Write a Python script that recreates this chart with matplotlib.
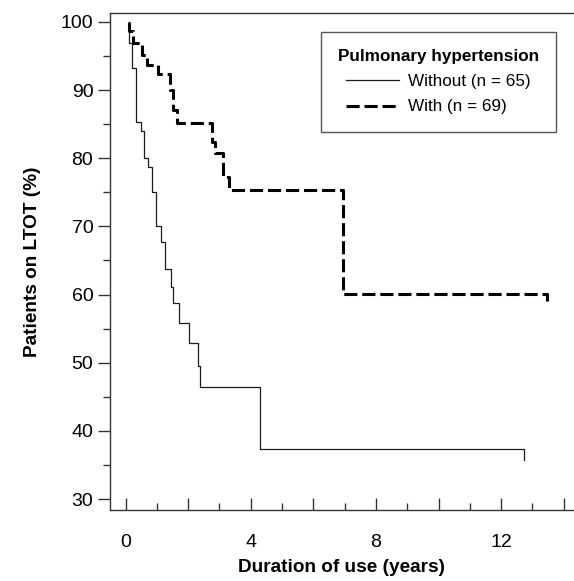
import matplotlib
matplotlib.use('Agg')
import matplotlib.pyplot as plt
from matplotlib.ticker import MultipleLocator, FixedLocator, FuncFormatter

plt.rcParams['font.family'] = ['Liberation Sans', 'DejaVu Sans']

# Kaplan-Meier style step data (time in years, % on LTOT)
without_t = [0.10, 0.12, 0.21, 0.32, 0.48, 0.60, 0.70, 0.83, 0.96, 1.13, 1.26,
             1.45, 1.53, 1.69, 2.03, 2.30, 2.38, 4.30, 12.73]
without_s = [100, 96.9, 93.2, 85.3, 84.0, 80.0, 78.7, 75.0, 70.0, 67.7, 63.7,
             61.1, 58.8, 55.9, 52.9, 49.5, 46.5, 37.4, 37.4]
without_end = 35.8

with_t = [0.10, 0.12, 0.24, 0.51, 0.67, 1.05, 1.42, 1.50, 1.64, 2.76, 2.86,
          3.10, 3.31, 6.96, 13.46]
with_s = [100, 98.6, 96.9, 95.2, 93.7, 92.4, 90.0, 87.1, 85.1, 82.4, 80.7,
          77.3, 75.3, 60.1, 60.1]
with_end = 59.0

labels = ['Without (n = 65)', 'With (n = 69)']
legend_title = 'Pulmonary hypertension'

fig = plt.figure(figsize=(5.74, 5.81), dpi=100)
ax = fig.add_axes([0.1916, 0.1222, 0.8084, 0.8554])

ax.step(without_t + [without_t[-1]], without_s + [without_end], where='post',
        color='#1a1a1a', lw=0.9, label=labels[0])
ax.step(with_t + [with_t[-1]], with_s + [with_end], where='post',
        color='black', lw=2.2, dashes=(4.3, 1.6), label=labels[1])

ax.set_xlim(-0.5, 14.33)
ax.set_ylim(28.4, 101.3)

ax.spines['right'].set_visible(False)
for s in ['left', 'bottom', 'top']:
    ax.spines[s].set_color('#333333')
    ax.spines[s].set_linewidth(1.0)

ax.xaxis.set_major_locator(FixedLocator(range(0, 15, 2)))
ax.xaxis.set_minor_locator(FixedLocator(range(1, 15, 2)))
ax.xaxis.set_major_formatter(FuncFormatter(lambda v, p: f'{int(v)}' if int(v) % 4 == 0 else ''))
ax.yaxis.set_major_locator(MultipleLocator(10))
ax.yaxis.set_minor_locator(MultipleLocator(5))

ax.tick_params(axis='x', which='major', direction='in', length=9, width=1,
               color='#333333', labelsize=14, pad=17)
ax.tick_params(axis='x', which='minor', direction='in', length=5, width=1, color='#333333')
ax.tick_params(axis='y', which='major', direction='out', length=9, width=1,
               color='#333333', labelsize=14, pad=3)
ax.tick_params(axis='y', which='minor', direction='out', length=5, width=1, color='#333333')

ax.set_xlabel('Duration of use (years)', fontsize=13.7, fontweight='bold', labelpad=6)
ax.set_ylabel('Patients on LTOT (%)', fontsize=13.7, fontweight='bold', labelpad=14)

leg = ax.legend(loc='upper right', bbox_to_anchor=(0.961, 0.962), borderaxespad=0,
                fontsize=12.3, title=legend_title, handlelength=3.1, handletextpad=0.5,
                fancybox=False, edgecolor='#555555', framealpha=1,
                borderpad=1.0, labelspacing=0.6)
leg.get_title().set_fontweight('bold')
leg.get_title().set_fontsize(12.3)
leg.get_frame().set_linewidth(1.0)

fig.savefig('out.png', dpi=100)
